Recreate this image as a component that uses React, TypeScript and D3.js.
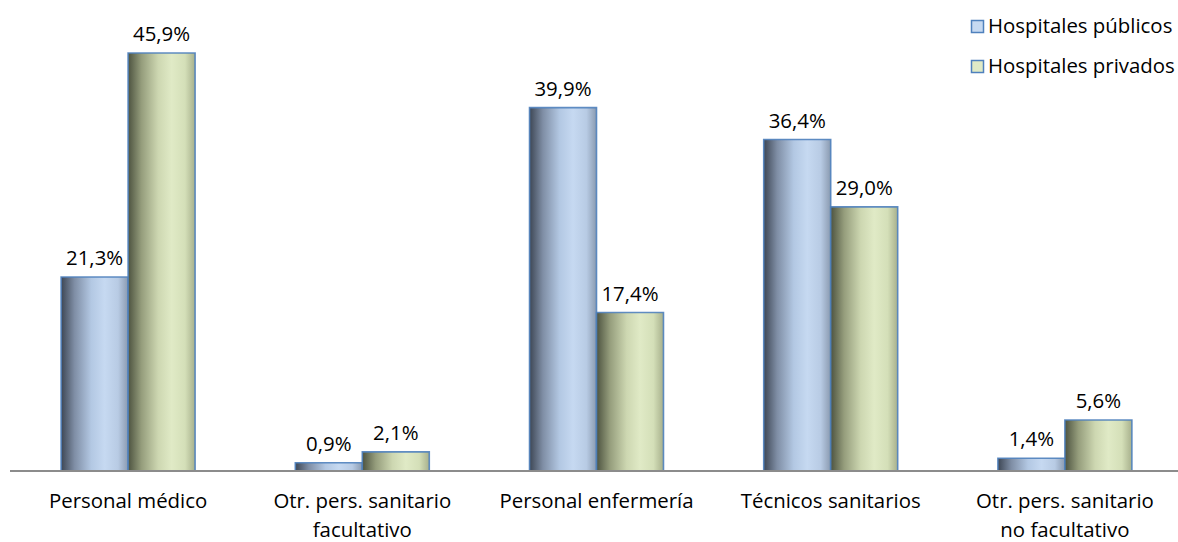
import React from "react";
import * as d3 from "d3";

const categories: string[][] = [
  ["Personal médico"],
  ["Otr. pers. sanitario", "facultativo"],
  ["Personal enfermería"],
  ["Técnicos sanitarios"],
  ["Otr. pers. sanitario", "no facultativo"],
];
const publicos: number[] = [21.3, 0.9, 39.9, 36.4, 1.4];
const privados: number[] = [45.9, 2.1, 17.4, 29.0, 5.6];
const seriesNames: string[] = ["Hospitales públicos", "Hospitales privados"];

const W = 1178;
const H = 542;
const FONT = "'Open Sans', sans-serif";
const FS = 20.4;

export default function App() {
  const x = d3
    .scaleBand<number>()
    .domain(categories.map((_, i) => i))
    .range([11, 1182])
    .paddingInner(0.428)
    .paddingOuter(0.214);
  const x1 = d3.scaleBand<number>().domain([0, 1]).range([0, x.bandwidth()]);
  const y = d3.scaleLinear().domain([0, 45.9]).range([471, 53]);
  const fmt = (v: number) => v.toFixed(1).replace(".", ",") + "%";
  const series = [publicos, privados];
  const grads = ["gBlue", "gGreen"];

  return (
    <svg width={W} height={H} style={{ position: "absolute", left: 0, top: 0 }}>
      <defs>
        <linearGradient id="gBlue" x1="0" x2="1" y1="0" y2="0">
          <stop offset="0" stopColor="#3d4654" />
          <stop offset="0.2" stopColor="#7f8ea5" />
          <stop offset="0.45" stopColor="#b3c8e3" />
          <stop offset="0.65" stopColor="#c6d9f1" />
          <stop offset="0.85" stopColor="#b8cbe4" />
          <stop offset="1" stopColor="#8a9ab0" />
        </linearGradient>
        <linearGradient id="gGreen" x1="0" x2="1" y1="0" y2="0">
          <stop offset="0" stopColor="#4d5340" />
          <stop offset="0.2" stopColor="#959d7c" />
          <stop offset="0.45" stopColor="#cdd7b1" />
          <stop offset="0.65" stopColor="#e0eac6" />
          <stop offset="0.85" stopColor="#d4dfb8" />
          <stop offset="1" stopColor="#a7b08c" />
        </linearGradient>
      </defs>
      <rect width={W} height={H} fill="#ffffff" />
      {categories.map((cat, i) =>
        series.map((s, k) => {
          const bx = (x(i) as number) + (x1(k) as number);
          const by = y(s[i]);
          const bw = x1.bandwidth();
          const bh = y(0) - by;
          return (
            <g key={`${i}-${k}`}>
              <rect x={bx} y={by} width={bw} height={bh} fill={`url(#${grads[k]})`} />
              <path
                d={`M${bx},${y(0)}V${by}H${bx + bw}V${y(0)}`}
                fill="none"
                stroke="#4f81bd"
                strokeWidth={1.6}
                strokeOpacity={0.9}
              />
              <text
                x={bx + bw / 2}
                y={by - 12}
                textAnchor="middle"
                fontFamily={FONT}
                fontSize={FS}
                fill="#000"
              >
                {fmt(s[i])}
              </text>
            </g>
          );
        })
      )}
      <line x1={10} x2={1178} y1={471} y2={471} stroke="#8c8c8c" strokeWidth={2} />
      {categories.map((cat, i) => (
        <text
          key={i}
          x={(x(i) as number) + x.bandwidth() / 2}
          y={508}
          textAnchor="middle"
          fontFamily={FONT}
          fontSize={FS}
          fill="#000"
        >
          {cat.map((line, j) => (
            <tspan key={j} x={(x(i) as number) + x.bandwidth() / 2} dy={j === 0 ? 0 : 29}>
              {line}
            </tspan>
          ))}
        </text>
      ))}
      {seriesNames.map((name, k) => (
        <g key={name} transform={`translate(971, ${20 + k * 40})`}>
          <rect
            x={0.5}
            y={0.5}
            width={12}
            height={12}
            fill={k === 0 ? "#c6d9f1" : "#e0eac6"}
            stroke="#4f81bd"
            strokeWidth={1.5}
          />
          <text x={17} y={12.5} fontFamily={FONT} fontSize={FS} fill="#000">
            {name}
          </text>
        </g>
      ))}
    </svg>
  );
}
